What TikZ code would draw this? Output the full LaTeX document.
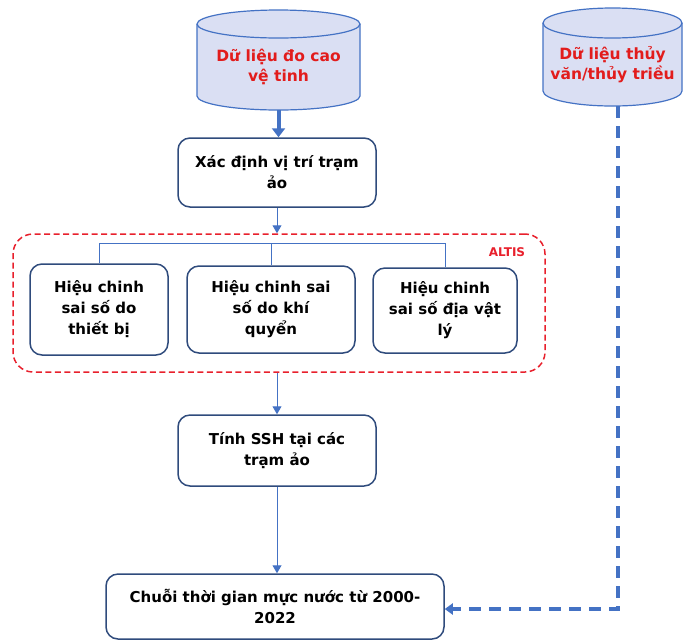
\documentclass[tikz,border=0pt]{standalone}
\usepackage{fontspec}
\setmainfont{DejaVu Sans}
\usetikzlibrary{arrows.meta}
\definecolor{cylfill}{RGB}{218,223,243}
\definecolor{cylline}{RGB}{68,114,196}
\definecolor{boxline}{RGB}{47,75,124}
\definecolor{conn}{RGB}{68,114,196}
\definecolor{altisred}{RGB}{232,32,44}
\definecolor{txtred}{RGB}{226,28,28}
\begin{document}
\begin{tikzpicture}[x=1pt,y=-1pt,
  procbox/.style={draw=boxline, line width=1.5pt, rounded corners=12pt, fill=white, align=center,
    font=\fontsize{15}{21}\selectfont\bfseries, inner sep=0pt},
  cyltext/.style={align=center, inner sep=0pt, text=txtred, font=\fontsize{15.5}{20.5}\selectfont\bfseries},
  cylbody/.style={fill=cylfill, draw=cylline, line width=1.2pt},
  thinarrow/.style={draw=conn, line width=1pt, -{Triangle[width=9pt,length=8pt]}},
  thinline/.style={draw=conn, line width=1pt},
  bigarrow/.style={draw=conn, line width=4pt, -{Triangle[width=13pt,length=9pt]}},
  dasharrow/.style={draw=conn, line width=3.5pt, dash pattern=on 12pt off 8pt, -{Triangle[width=11pt,length=8pt]}},
]
\useasboundingbox (0,0) rectangle (684,641);

% satellite altimetry cylinder
\path[cylbody] (197,24) -- (197,96) arc[start angle=180, end angle=360, x radius=81.5pt, y radius=14pt]
  -- (360,24) arc[start angle=0, end angle=180, x radius=81.5pt, y radius=14pt] -- cycle;
\draw[cylline, line width=1.2pt] (197,24) arc[start angle=180, end angle=360, x radius=81.5pt, y radius=14pt];
\node[cyltext, minimum width=163pt, minimum height=86pt] (sat) at (278.5,67) {Dữ liệu đo cao\\vệ tinh};

% tide gauge cylinder
\path[cylbody] (543,23) -- (543,91) arc[start angle=180, end angle=360, x radius=69.5pt, y radius=15pt]
  -- (682,23) arc[start angle=0, end angle=180, x radius=69.5pt, y radius=15pt] -- cycle;
\draw[cylline, line width=1.2pt] (543,23) arc[start angle=180, end angle=360, x radius=69.5pt, y radius=15pt];
\node[cyltext, minimum width=139pt, minimum height=83pt] (tide) at (612.5,64.5) {Dữ liệu thủy\\văn/thủy triều};

% process boxes
\node[procbox, minimum width=198pt, minimum height=69pt] (xd) at (277,172.5) {Xác định vị trí trạm\\ảo};

\node[draw=altisred, dash pattern=on 6pt off 3.5pt, line width=1.5pt, rounded corners=20pt,
  minimum width=532pt, minimum height=138pt, inner sep=0pt] (altis) at (279,303) {};
\node[text=altisred, font=\fontsize{12}{14}\selectfont\bfseries] (altislbl) at (507,252) {ALTIS};

\node[procbox, minimum width=138pt, minimum height=91pt] (b1) at (99,309.5) {Hiệu chinh\\sai số do\\thiết bị};
\node[procbox, minimum width=168pt, minimum height=87pt] (b2) at (271,309.5) {Hiệu chinh sai\\số do khí\\quyển};
\node[procbox, minimum width=144pt, minimum height=85pt] (b3) at (445,310.5) {Hiệu chinh\\sai số địa vật\\lý};

\node[procbox, minimum width=198pt, minimum height=71pt] (ssh) at (277,450.5) {Tính SSH tại các\\trạm ảo};

\node[procbox, minimum width=338pt, minimum height=65pt] (chuoi) at (275,606.5) {Chuỗi thời gian mực nước từ 2000-\\2022};

% connectors
\draw[bigarrow] (sat.south) -- (sat.south |- xd.north);
\draw[thinarrow] (xd.south) -- (xd.south |- altis.north);
\coordinate (bus) at (271,243);
\draw[thinline] (b1.north) -- (b1.north |- bus) -- (b3.north |- bus) -- (b3.north);
\draw[thinline] (bus) -- (b2.north);
\draw[thinarrow] (ssh.north |- altis.south) -- (ssh.north);
\draw[thinarrow] (ssh.south) -- (ssh.south |- chuoi.north);
\coordinate (corner) at (618,609);
\draw[dasharrow] (tide.south -| corner) -- (corner) -- (chuoi.east |- corner);
\end{tikzpicture}
\end{document}
